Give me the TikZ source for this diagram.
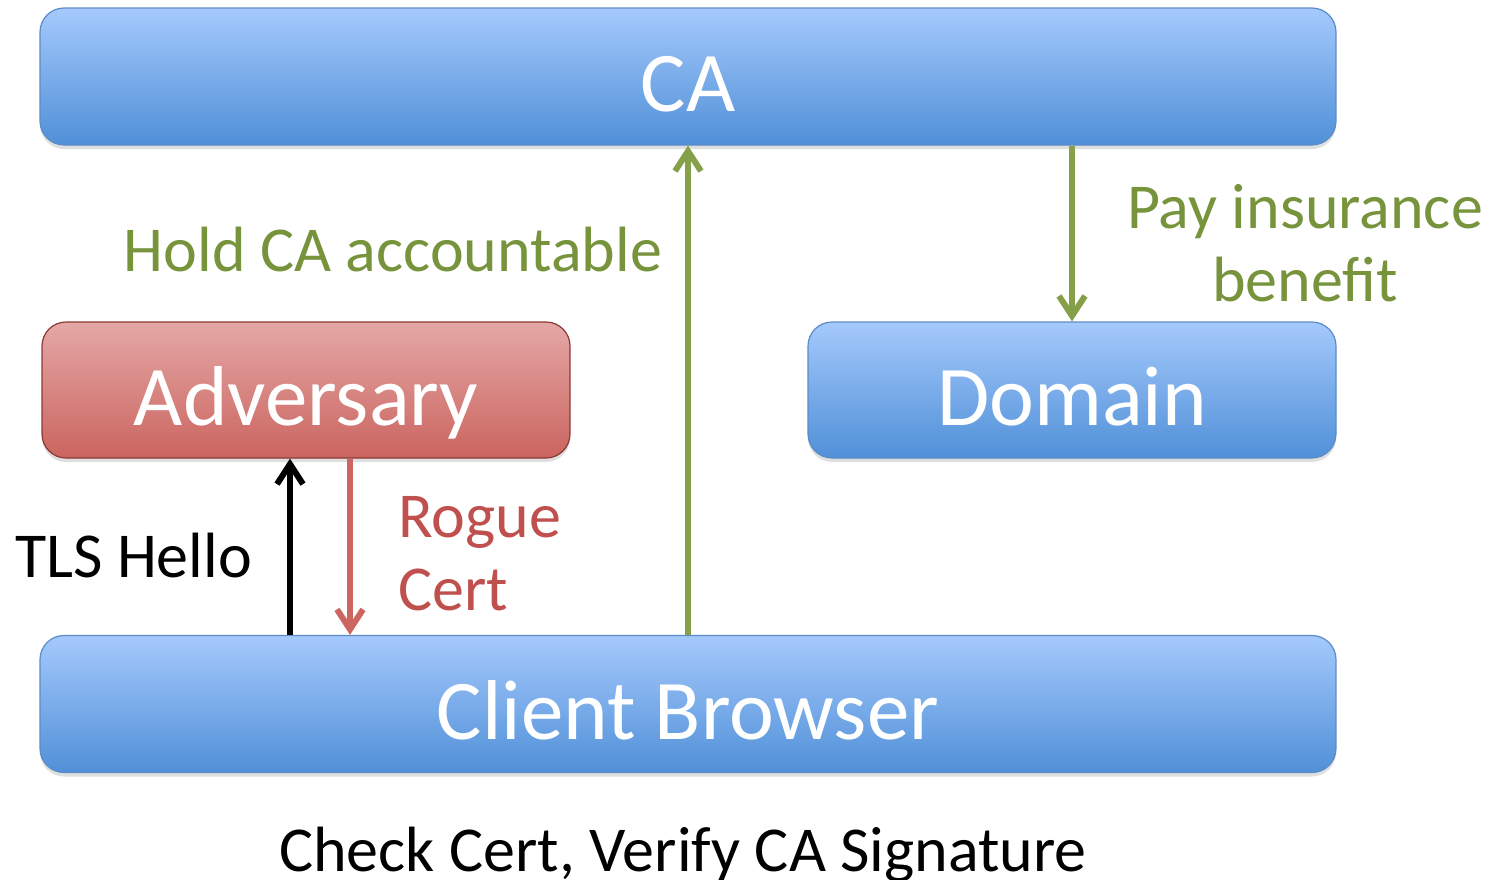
\documentclass[tikz,border=0pt]{standalone}
\usepackage{fontspec}
\setmainfont{Carlito}
\usetikzlibrary{arrows.meta,shadows}
\definecolor{bluetop}{RGB}{165,201,252}
\definecolor{bluebot}{RGB}{80,144,216}
\definecolor{blueedge}{RGB}{90,140,200}
\definecolor{redtop}{RGB}{228,168,166}
\definecolor{redbot}{RGB}{203,100,95}
\definecolor{rededge}{RGB}{140,56,54}
\definecolor{greentxt}{RGB}{119,147,60}
\definecolor{greenarr}{RGB}{134,160,74}
\definecolor{redtxt}{RGB}{192,80,77}
\definecolor{redarr}{RGB}{205,102,96}
\tikzset{
  box/.style={rounded corners=24pt, inner sep=0pt, text=white,
    font=\fontsize{85}{100}\selectfont, text height=103pt, text depth=33pt,
    line width=1.2pt,
    drop shadow={shadow xshift=0pt, shadow yshift=-4pt, opacity=0.25}},
  bluebox/.style={box, draw=blueedge, top color=bluetop, bottom color=bluebot},
  redbox/.style={box, draw=rededge, top color=redtop, bottom color=redbot},
  conn/.style={line width=6pt, -{Straight Barb[length=20pt,width=26pt,line width=6pt]}},
  lbl/.style={font=\fontsize{64}{73}\selectfont, inner sep=0pt}
}
\begin{document}
\begin{tikzpicture}[x=1pt,y=-1pt]
\useasboundingbox (0,0) rectangle (1500,879);
\node[bluebox, minimum width=1296pt, minimum height=137pt] (ca) at (688,76.5) {CA};
\node[redbox, minimum width=528pt, minimum height=136pt] (adv) at (306,390) {Adversary};
\node[bluebox, minimum width=528pt, minimum height=136pt] (dom) at (1072,390) {Domain};
\node[bluebox, minimum width=1296pt, minimum height=137pt] (cli) at (688,704) {Client Browser};

\draw[conn, greenarr] (cli.north) -- (ca.south);
\draw[conn, greenarr] (ca.south -| dom.north) -- (dom.north);
\draw[conn, black] ([xshift=-16pt]adv.south |- cli.north) -- ([xshift=-16pt]adv.south);
\draw[conn, redarr] ([xshift=44pt]adv.south) -- ([xshift=44pt]adv.south |- cli.north);

\node[lbl, text=greentxt, anchor=base] (hold) at (393,271) {Hold CA accountable};
\node[lbl, text=greentxt, anchor=base, align=center] (pay) at (1305,301) {Pay insurance\\benefit};
\node[lbl, text=black, anchor=base west] (tls) at (15,577) {TLS Hello};
\node[lbl, text=redtxt, anchor=base west, align=left] (rogue) at (398,610) {Rogue\\Cert};
\node[lbl, text=black, anchor=base] (check) at (683,871) {Check Cert, Verify CA Signature};
\end{tikzpicture}
\end{document}
